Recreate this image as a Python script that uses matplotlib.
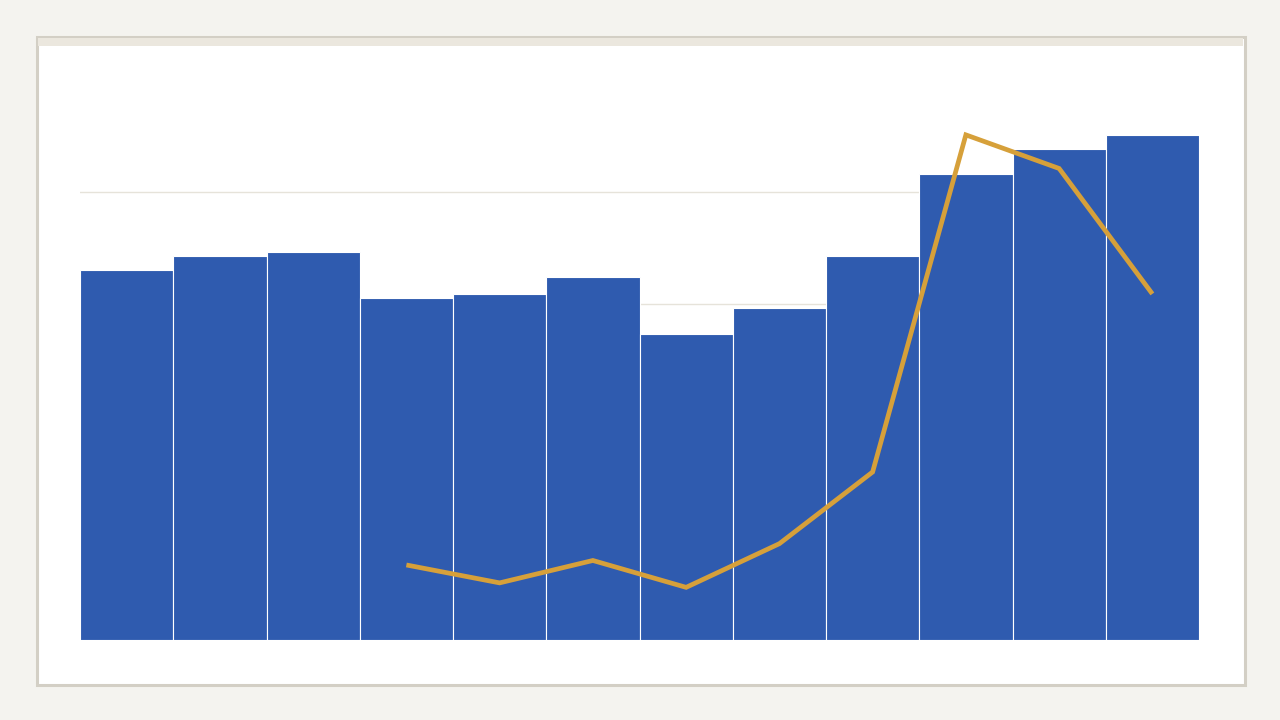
import matplotlib.pyplot as plt
from matplotlib.patches import Rectangle

# data
categories = list(range(12))
bar_values = [3.30, 3.43, 3.46, 3.05, 3.09, 3.24, 2.73, 2.96, 3.43, 4.16, 4.38, 4.51]
line_x = [3, 4, 5, 6, 7, 8, 9, 10, 11]
line_values = [0.67, 0.51, 0.71, 0.47, 0.86, 1.50, 4.51, 4.21, 3.09]

W, H = 1280, 720
fig = plt.figure(figsize=(12.8, 7.2), dpi=100)
fig.patch.set_facecolor('#f4f3ef')

# card behind the chart
fig.add_artist(Rectangle((36.5 / W, 1 - 684.5 / H), 1208 / W, 648 / H,
                         transform=fig.transFigure, facecolor='white',
                         edgecolor='#d3cfc5', linewidth=2.2, zorder=0))
fig.add_artist(Rectangle((38 / W, 1 - 46 / H), 1205 / W, 8 / H,
                         transform=fig.transFigure, facecolor='#ebe7de',
                         edgecolor='none', zorder=0))

ax = fig.add_axes([80 / W, 80 / H, 1119 / W, 560 / H])
ax.set_facecolor('none')

ax.bar(categories, bar_values, width=1.0, color='#2f5baf',
       edgecolor='white', linewidth=0.8, zorder=2)
ax.plot(line_x, line_values, color='#d6a03a', linewidth=3.4,
        solid_capstyle='butt', solid_joinstyle='miter', zorder=3)

ax.set_xlim(-0.5, 11.5)
ax.set_ylim(0, 5)
ax.set_yticks([1, 2, 3, 4])
ax.grid(axis='y', color='#e6e3da', linewidth=1, zorder=1)
ax.tick_params(left=False, bottom=False, labelleft=False, labelbottom=False)
for s in ax.spines.values():
    s.set_visible(False)

fig.savefig('out.png', dpi=100, facecolor=fig.get_facecolor())
